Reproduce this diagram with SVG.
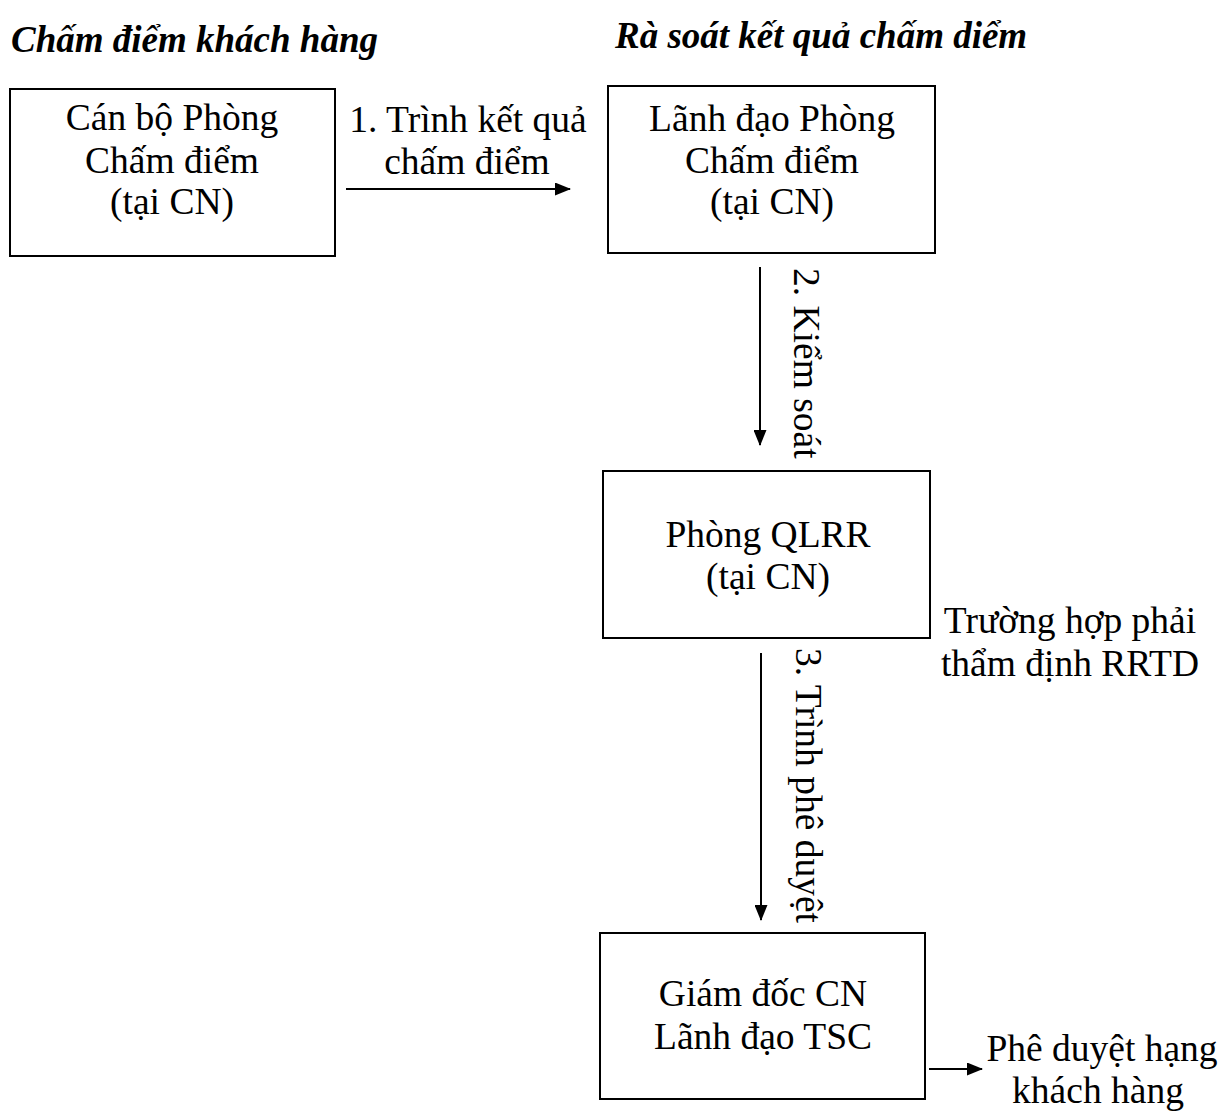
<svg xmlns="http://www.w3.org/2000/svg" width="1224" height="1113" viewBox="0 0 1224 1113">
  <style>
    .box { fill: #ffffff; stroke: #000000; stroke-width: 2; }
    .edge { stroke: #000000; stroke-width: 2; fill: none; }
    .t { font-family: "Liberation Serif", "Times New Roman", serif; font-size: 37.5px; fill: #000000; }
    .c { text-anchor: middle; }
    .h { font-family: "Liberation Serif", "Times New Roman", serif; font-size: 37px; font-weight: bold; font-style: italic; fill: #000000; }
  </style>
  <defs>
    <marker id="arrow" viewBox="0 0 16 13" refX="15" refY="6.5" markerWidth="16" markerHeight="13" markerUnits="userSpaceOnUse" orient="auto">
      <path d="M0,0 L16,6.5 L0,13 Z" fill="#000000"/>
    </marker>
  </defs>
  <rect width="1224" height="1113" fill="#ffffff"/>

  <!-- section headings -->
  <text class="h" x="11" y="52">Chấm điểm khách hàng</text>
  <text class="h" x="615" y="48">Rà soát kết quả chấm diểm</text>

  <!-- nodes -->
  <g id="can-bo">
    <rect class="box" x="10" y="89" width="325" height="167"/>
    <text class="t c" x="172" y="130">Cán bộ Phòng</text>
    <text class="t c" x="172" y="173">Chấm điểm</text>
    <text class="t c" x="172" y="214">(tại CN)</text>
  </g>
  <g id="lanh-dao-phong">
    <rect class="box" x="608" y="86" width="327" height="167"/>
    <text class="t c" x="772" y="131">Lãnh đạo Phòng</text>
    <text class="t c" x="772" y="173">Chấm điểm</text>
    <text class="t c" x="772" y="214">(tại CN)</text>
  </g>
  <g id="qlrr">
    <rect class="box" x="603" y="471" width="327" height="167"/>
    <text class="t c" x="768" y="547">Phòng QLRR</text>
    <text class="t c" x="768" y="589">(tại CN)</text>
  </g>
  <g id="giam-doc">
    <rect class="box" x="600" y="933" width="325" height="166"/>
    <text class="t c" x="763" y="1006">Giám đốc CN</text>
    <text class="t c" x="763" y="1049">Lãnh đạo TSC</text>
  </g>

  <!-- connectors and their labels -->
  <g id="connectors">
    <line class="edge" x1="346" y1="189" x2="570" y2="189" marker-end="url(#arrow)"/>
    <text class="t c" x="468" y="132">1. Trình kết quả</text>
    <text class="t c" x="467" y="174">chấm điểm</text>

    <line class="edge" x1="760" y1="267" x2="760" y2="445" marker-end="url(#arrow)"/>
    <text class="t" transform="translate(794,268) rotate(90)">2. Kiểm soát</text>

    <line class="edge" x1="761" y1="653" x2="761" y2="920" marker-end="url(#arrow)"/>
    <text class="t" transform="translate(796,648) rotate(90)">3. Trình phê duyệt</text>

    <line class="edge" x1="929" y1="1069" x2="982" y2="1069" marker-end="url(#arrow)"/>
  </g>

  <!-- side notes -->
  <g id="notes">
    <text class="t c" x="1070" y="633">Trường hợp phải</text>
    <text class="t c" x="1070" y="676">thẩm định RRTD</text>
    <text class="t c" x="1102" y="1061">Phê duyệt hạng</text>
    <text class="t c" x="1098" y="1103">khách hàng</text>
  </g>
</svg>
